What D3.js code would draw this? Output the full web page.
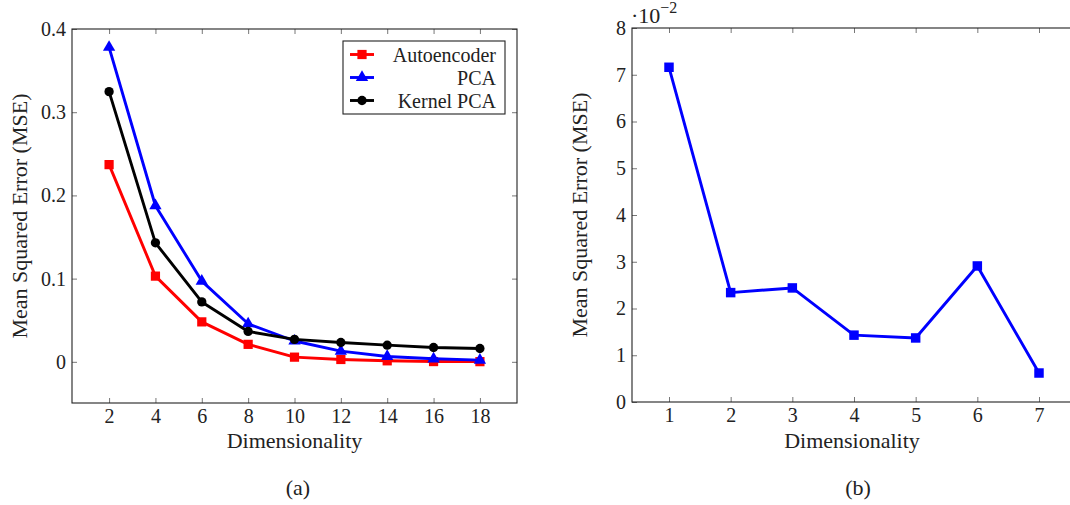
<!DOCTYPE html>
<html>
<meta charset="utf-8">
<style>
    body { margin: 0; background: #fff; }
    text { font-family: "Liberation Serif", "Times New Roman", serif; fill: #222; }
    .tick line { stroke: #777; stroke-width: 1px; }
    .frame { fill: none; stroke: #222; stroke-width: 1.1px; }
    .series { fill: none; stroke-width: 2.9px; stroke-linejoin: round; }
</style>

<body>
    <script src="https://d3js.org/d3.v7.min.js"></script>
    <script>

        var width = 1070,
            height = 505;
        var serif = "'Liberation Serif', 'Times New Roman', serif";

        // panel (a)
        var dimsA = [2, 4, 6, 8, 10, 12, 14, 16, 18];
        var autoencoder = [0.237, 0.103, 0.048, 0.021, 0.0056, 0.0028, 0.0012, 0.0003, 0.0002];
        var pca = [0.378, 0.1876, 0.097, 0.0457, 0.025, 0.0128, 0.0064, 0.0036, 0.002];
        var kernelPca = [0.3247, 0.143, 0.072, 0.0365, 0.027, 0.0232, 0.020, 0.0172, 0.016];
        var yTicksA = [0, 0.1, 0.2, 0.3, 0.4];

        // panel (b)
        var dimsB = [1, 2, 3, 4, 5, 6, 7];
        var mseB = [0.0716, 0.0234, 0.0244, 0.0143, 0.0137, 0.0291, 0.0062];
        var yTicksB = [0, 1, 2, 3, 4, 5, 6, 7, 8];

        var svg = d3.select("body").append("svg")
            .attr("width", width)
            .attr("height", height)
            .style("font-family", serif);

        function frame(g, x, y, xTicks, yTicks, xFmt, yFmt) {
            var x0 = x.range()[0], x1 = x.range()[1],
                y0 = y.range()[0], y1 = y.range()[1];

            g.append("g").attr("transform", "translate(0," + y0 + ")")
                .call(d3.axisBottom(x).tickValues(xTicks).tickFormat(xFmt)
                    .tickSizeInner(-5).tickSizeOuter(0).tickPadding(6));
            g.append("g").attr("transform", "translate(0," + y1 + ")")
                .call(d3.axisTop(x).tickValues(xTicks).tickFormat("")
                    .tickSizeInner(-5).tickSizeOuter(0));
            g.append("g").attr("transform", "translate(" + x0 + ",0)")
                .call(d3.axisLeft(y).tickValues(yTicks).tickFormat(yFmt)
                    .tickSizeInner(-5).tickSizeOuter(0).tickPadding(6));
            g.append("g").attr("transform", "translate(" + x1 + ",0)")
                .call(d3.axisRight(y).tickValues(yTicks).tickFormat("")
                    .tickSizeInner(-5).tickSizeOuter(0));

            g.selectAll(".domain").remove();
            g.selectAll("g").attr("font-family", null).attr("font-size", null);
            g.selectAll(".tick text")
                .style("font-size", "20px")
                .style("font-family", serif)
                .attr("fill", "#222");

            g.append("rect")
                .attr("class", "frame")
                .attr("x", x0).attr("y", y1)
                .attr("width", x1 - x0).attr("height", y0 - y1);
        }

        function drawSeries(g, x, y, xs, ys, color, symbol, size) {
            var pts = xs.map(function (d, i) { return [x(d), y(ys[i])]; });
            g.append("path")
                .attr("class", "series")
                .attr("stroke", color)
                .attr("d", d3.line()(pts));
            g.selectAll(null)
                .data(pts)
                .enter().append("path")
                .attr("fill", color)
                .attr("d", d3.symbol().type(symbol).size(size))
                .attr("transform", function (d) { return "translate(" + d + ")"; });
        }

        // ---- (a)
        var xA = d3.scaleLinear().domain([0.4, 19.6]).range([72, 517]);
        var yA = d3.scaleLinear().domain([-0.0495, 0.4]).range([403, 29]);
        var gA = svg.append("g");

        frame(gA, xA, yA, dimsA, yTicksA,
            function (d) { return d; },
            function (d) { return d === 0 ? "0" : d.toFixed(1); });

        drawSeries(gA, xA, yA, dimsA, autoencoder, "#ff0000", d3.symbolSquare, 85);
        drawSeries(gA, xA, yA, dimsA, pca, "#0000ff", d3.symbolTriangle, 66);
        drawSeries(gA, xA, yA, dimsA, kernelPca, "#000000", d3.symbolCircle, 68);

        gA.append("text")
            .attr("x", 294.5).attr("y", 448)
            .attr("text-anchor", "middle")
            .style("font-size", "22px")
            .text("Dimensionality");
        gA.append("text")
            .attr("transform", "translate(27,216) rotate(-90)")
            .attr("text-anchor", "middle")
            .style("font-size", "22px")
            .text("Mean Squared Error (MSE)");
        gA.append("text")
            .attr("x", 298).attr("y", 495)
            .attr("text-anchor", "middle")
            .style("font-size", "22px")
            .text("(a)");

        // legend
        var legendItems = [
            { name: "Autoencoder", color: "#ff0000", symbol: d3.symbolSquare, size: 85 },
            { name: "PCA", color: "#0000ff", symbol: d3.symbolTriangle, size: 66 },
            { name: "Kernel PCA", color: "#000000", symbol: d3.symbolCircle, size: 68 }
        ];
        var legend = gA.append("g");
        legend.append("rect")
            .attr("x", 343).attr("y", 41)
            .attr("width", 162).attr("height", 73)
            .attr("fill", "#fff")
            .attr("stroke", "#222")
            .attr("stroke-width", 1.1);
        var rows = legend.selectAll(".row")
            .data(legendItems)
            .enter().append("g")
            .attr("transform", function (d, i) { return "translate(0," + (54.5 + i * 23) + ")"; });
        rows.append("line")
            .attr("x1", 350).attr("x2", 374)
            .attr("stroke", function (d) { return d.color; })
            .attr("stroke-width", 2.9);
        rows.append("path")
            .attr("transform", "translate(362,0)")
            .attr("fill", function (d) { return d.color; })
            .attr("d", function (d) { return d3.symbol().type(d.symbol).size(d.size)(); });
        rows.append("text")
            .attr("x", 496).attr("y", 7)
            .attr("text-anchor", "end")
            .style("font-size", "20px")
            .text(function (d) { return d.name; });

        // ---- (b)
        var xB = d3.scaleLinear().domain([0.4, 7.6]).range([632, 1076]);
        var yB = d3.scaleLinear().domain([0, 0.08]).range([402, 28]);
        var gB = svg.append("g");

        frame(gB, xB, yB, dimsB, yTicksB.map(function (d) { return d / 100; }),
            function (d) { return d; },
            function (d) { return Math.round(d * 100); });

        drawSeries(gB, xB, yB, dimsB, mseB, "#0000ff", d3.symbolSquare, 90);

        var expo = gB.append("text")
            .attr("x", 631).attr("y", 23)
            .style("font-size", "22px");
        expo.append("tspan").text("·10");
        expo.append("tspan")
            .attr("dy", -10)
            .style("font-size", "16px")
            .text("−2");

        gB.append("text")
            .attr("x", 852).attr("y", 448)
            .attr("text-anchor", "middle")
            .style("font-size", "22px")
            .text("Dimensionality");
        gB.append("text")
            .attr("transform", "translate(587,215) rotate(-90)")
            .attr("text-anchor", "middle")
            .style("font-size", "22px")
            .text("Mean Squared Error (MSE)");
        gB.append("text")
            .attr("x", 858).attr("y", 495)
            .attr("text-anchor", "middle")
            .style("font-size", "22px")
            .text("(b)");

    </script>

</body>
</html>
